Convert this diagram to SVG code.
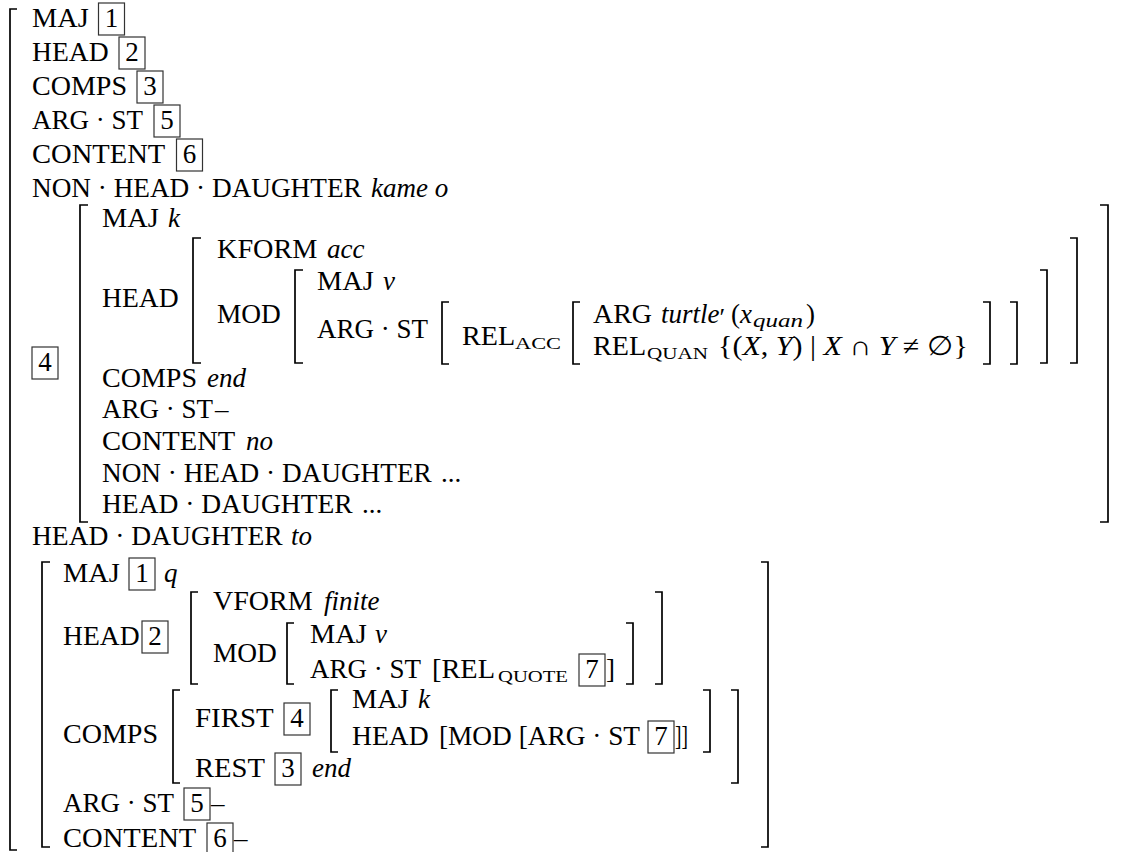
<svg xmlns="http://www.w3.org/2000/svg" width="1128" height="852" viewBox="0 0 1128 852">
<style>
text{font-family:"Liberation Serif","DejaVu Serif",serif;font-size:27px;fill:#000}
.i{font-style:italic}
.sc{font-size:16px}
.si{font-size:18px;font-style:italic}
.d{text-anchor:middle}
.br{fill:none;stroke:#000;stroke-width:1.7}
.bx{fill:none;stroke:#333;stroke-width:1.2}
</style>
<rect width="1128" height="852" fill="#fff"/>
<g id="brackets">
<path class="br" d="M17,9H10V850H17"/>
<path class="br" d="M88,205H80V522H88"/>
<path class="br" d="M201,238H193V363H201"/>
<path class="br" d="M303,270H295V363H303"/>
<path class="br" d="M449,302H442V364H449"/>
<path class="br" d="M580,302H573V364H580"/>
<path class="br" d="M983,302H990V364H983"/>
<path class="br" d="M1010,302H1017V364H1010"/>
<path class="br" d="M1040,270H1047V363H1040"/>
<path class="br" d="M1070,238H1077V363H1070"/>
<path class="br" d="M1100,205H1108V522H1100"/>
<path class="br" d="M50,562H42V847H50"/>
<path class="br" d="M198,592H191V684H198"/>
<path class="br" d="M294,623H287V684H294"/>
<path class="br" d="M626,623H633V684H626"/>
<path class="br" d="M655,592H662V684H655"/>
<path class="br" d="M180,690H173V783H180"/>
<path class="br" d="M338,690H331V752H338"/>
<path class="br" d="M703,690H710V752H703"/>
<path class="br" d="M731,690H738V783H731"/>
<path class="br" d="M761,562H768V847H761"/>
</g>
<g id="boxes">
<rect class="bx" x="98.5" y="3" width="26" height="32"/><text class="d" x="111.5" y="27">1</text>
<rect class="bx" x="119" y="37" width="26" height="32"/><text class="d" x="132" y="61">2</text>
<rect class="bx" x="137" y="71" width="26" height="32"/><text class="d" x="150" y="95">3</text>
<rect class="bx" x="154" y="105" width="26" height="32"/><text class="d" x="167" y="129">5</text>
<rect class="bx" x="176.5" y="139" width="26" height="32"/><text class="d" x="189.5" y="163">6</text>
<rect class="bx" x="32" y="347" width="26" height="32"/><text class="d" x="45" y="371">4</text>
<rect class="bx" x="129" y="558" width="26" height="32"/><text class="d" x="142" y="582">1</text>
<rect class="bx" x="142" y="621" width="26" height="32"/><text class="d" x="155" y="645">2</text>
<rect class="bx" x="579" y="654" width="26" height="32"/><text class="d" x="592" y="678">7</text>
<rect class="bx" x="284" y="703" width="26" height="32"/><text class="d" x="297" y="727">4</text>
<rect class="bx" x="648" y="721" width="26" height="32"/><text class="d" x="661" y="745">7</text>
<rect class="bx" x="275" y="753" width="26" height="32"/><text class="d" x="288" y="777">3</text>
<rect class="bx" x="184" y="788" width="26" height="32"/><text class="d" x="197" y="812">5</text>
<rect class="bx" x="207" y="823" width="26" height="32"/><text class="d" x="220" y="847">6</text>
</g>
<g id="top-level">
<text x="32" y="27" textLength="56.7" lengthAdjust="spacingAndGlyphs">MAJ</text>
<text x="32" y="61" textLength="76.6" lengthAdjust="spacingAndGlyphs">HEAD</text>
<text x="32" y="95" textLength="95" lengthAdjust="spacingAndGlyphs">COMPS</text>
<text x="32" y="129" textLength="111" lengthAdjust="spacingAndGlyphs">ARG · ST</text>
<text x="32" y="163" textLength="133.3" lengthAdjust="spacingAndGlyphs">CONTENT</text>
<text x="32" y="197" textLength="329.7" lengthAdjust="spacingAndGlyphs">NON · HEAD · DAUGHTER</text>
<text class="i" x="371" y="197">kame o</text>
<text x="32" y="545" textLength="250.7" lengthAdjust="spacingAndGlyphs">HEAD · DAUGHTER</text>
<text class="i" x="291" y="545">to</text>
</g>
<g id="avm-4">
<text x="102" y="227" textLength="56.7" lengthAdjust="spacingAndGlyphs">MAJ</text>
<text class="i" x="168" y="227">k</text>
<text x="102" y="307" textLength="76.6" lengthAdjust="spacingAndGlyphs">HEAD</text>
<text x="217" y="258" textLength="100.4" lengthAdjust="spacingAndGlyphs">KFORM</text>
<text class="i" x="327" y="258">acc</text>
<text x="217" y="323" textLength="63.9" lengthAdjust="spacingAndGlyphs">MOD</text>
<text x="317" y="290" textLength="56.7" lengthAdjust="spacingAndGlyphs">MAJ</text>
<text class="i" x="383" y="290">v</text>
<text x="317" y="338" textLength="111" lengthAdjust="spacingAndGlyphs">ARG · ST</text>
<text x="462" y="345" textLength="53.1" lengthAdjust="spacingAndGlyphs">REL</text>
<text class="sc" x="515" y="349" textLength="46" lengthAdjust="spacingAndGlyphs">ACC</text>
<text x="593" y="323" textLength="59" lengthAdjust="spacingAndGlyphs">ARG</text>
<text class="i" x="661" y="323">turtle<tspan dy="3" style="font-style:normal;font-size:26px">′</tspan></text>
<text x="731" y="323">(</text>
<text class="i" x="740" y="323">x</text>
<text class="si" x="753" y="327" textLength="50" lengthAdjust="spacingAndGlyphs">quan</text>
<text x="806" y="323">)</text>
<text x="593" y="355" textLength="53.1" lengthAdjust="spacingAndGlyphs">REL</text>
<text class="sc" x="647" y="359" textLength="61" lengthAdjust="spacingAndGlyphs">QUAN</text>
<text x="718" y="355" textLength="250" lengthAdjust="spacingAndGlyphs">{(<tspan class="i">X</tspan>, <tspan class="i">Y</tspan>) | <tspan class="i">X</tspan> ∩ <tspan class="i">Y</tspan> ≠ ∅}</text>
<text x="102" y="387" textLength="95" lengthAdjust="spacingAndGlyphs">COMPS</text>
<text class="i" x="207" y="387">end</text>
<text x="102" y="418" textLength="111" lengthAdjust="spacingAndGlyphs">ARG · ST</text>
<text x="215" y="418">–</text>
<text x="102" y="450" textLength="133.3" lengthAdjust="spacingAndGlyphs">CONTENT</text>
<text class="i" x="246" y="450">no</text>
<text x="102" y="482" textLength="329.7" lengthAdjust="spacingAndGlyphs">NON · HEAD · DAUGHTER</text>
<text x="441" y="482">...</text>
<text x="102" y="513" textLength="250.7" lengthAdjust="spacingAndGlyphs">HEAD · DAUGHTER</text>
<text x="362" y="513">...</text>
</g>
<g id="avm-head-daughter">
<text x="63" y="582" textLength="56.7" lengthAdjust="spacingAndGlyphs">MAJ</text>
<text class="i" x="164" y="582">q</text>
<text x="63" y="645" textLength="76.6" lengthAdjust="spacingAndGlyphs">HEAD</text>
<text x="213" y="610" textLength="99.7" lengthAdjust="spacingAndGlyphs">VFORM</text>
<text class="i" x="324" y="610">finite</text>
<text x="213" y="662" textLength="63.9" lengthAdjust="spacingAndGlyphs">MOD</text>
<text x="310" y="643" textLength="56.7" lengthAdjust="spacingAndGlyphs">MAJ</text>
<text class="i" x="375" y="643">v</text>
<text x="310" y="678" textLength="111" lengthAdjust="spacingAndGlyphs">ARG · ST</text>
<text x="432" y="678" textLength="63" lengthAdjust="spacingAndGlyphs">[REL</text>
<text class="sc" x="498" y="682" textLength="70" lengthAdjust="spacingAndGlyphs">QUOTE</text>
<text x="606" y="678">]</text>
<text x="63" y="743" textLength="95" lengthAdjust="spacingAndGlyphs">COMPS</text>
<text x="195" y="727" textLength="78.7" lengthAdjust="spacingAndGlyphs">FIRST</text>
<text x="352" y="708" textLength="56.7" lengthAdjust="spacingAndGlyphs">MAJ</text>
<text class="i" x="418" y="708">k</text>
<text x="352" y="745" textLength="76.6" lengthAdjust="spacingAndGlyphs">HEAD</text>
<text x="439" y="745" textLength="201" lengthAdjust="spacingAndGlyphs">[MOD [ARG · ST</text>
<text x="675" y="745" textLength="13" lengthAdjust="spacingAndGlyphs">]]</text>
<text x="195" y="777" textLength="70" lengthAdjust="spacingAndGlyphs">REST</text>
<text class="i" x="312" y="777">end</text>
<text x="63" y="812" textLength="111" lengthAdjust="spacingAndGlyphs">ARG · ST</text>
<text x="211" y="812">–</text>
<text x="63" y="847" textLength="133.3" lengthAdjust="spacingAndGlyphs">CONTENT</text>
<text x="234" y="847">–</text>
</g>
</svg>
